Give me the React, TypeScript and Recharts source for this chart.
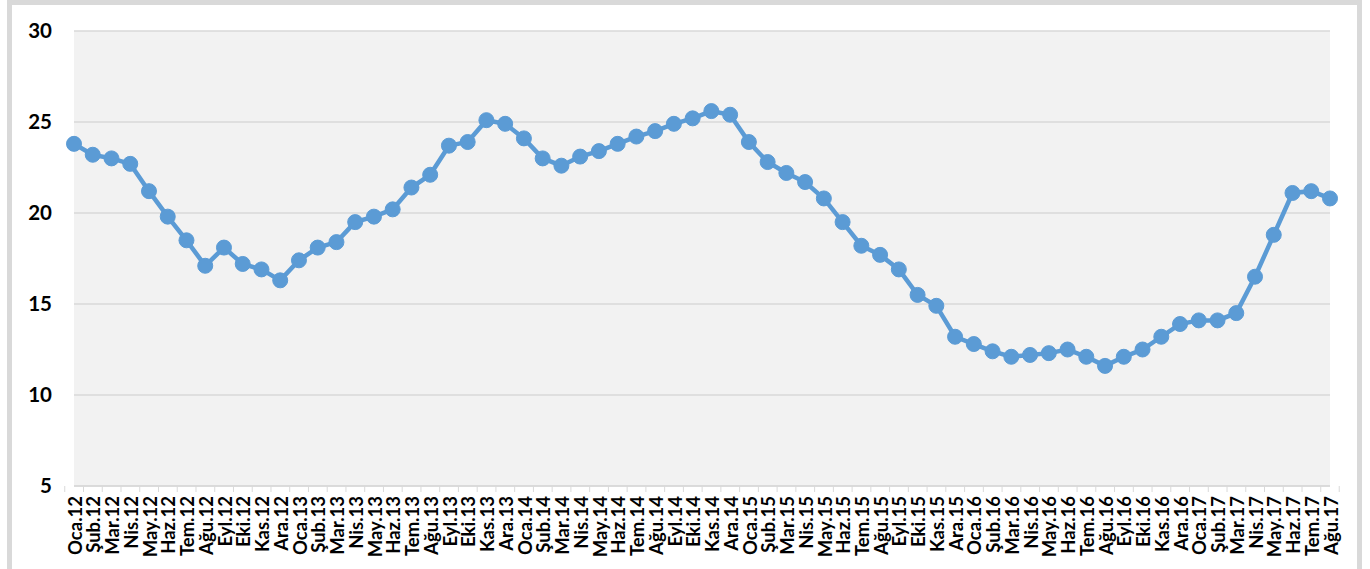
import { CartesianGrid, Line, LineChart, XAxis, YAxis } from "recharts";

const months = ["Oca", "Şub", "Mar", "Nis", "May", "Haz", "Tem", "Ağu", "Eyl", "Eki", "Kas", "Ara"];
const years = ["12", "13", "14", "15", "16", "17"];

const labels: string[] = years
  .flatMap((yr) => months.map((m) => `${m}.${yr}`))
  .slice(0, 68);

const values = [
  23.8, 23.2, 23.0, 22.7, 21.2, 19.8, 18.5, 17.1, 18.1, 17.2, 16.9, 16.3,
  17.4, 18.1, 18.4, 19.5, 19.8, 20.2, 21.4, 22.1, 23.7, 23.9, 25.1, 24.9,
  24.1, 23.0, 22.6, 23.1, 23.4, 23.8, 24.2, 24.5, 24.9, 25.2, 25.6, 25.4,
  23.9, 22.8, 22.2, 21.7, 20.8, 19.5, 18.2, 17.7, 16.9, 15.5, 14.9, 13.2,
  12.8, 12.4, 12.1, 12.2, 12.3, 12.5, 12.1, 11.6, 12.1, 12.5, 13.2, 13.9,
  14.1, 14.1, 14.5, 16.5, 18.8, 21.1, 21.2, 20.8,
];

const yTicks = [5, 10, 15, 20, 25, 30];

const data = labels.map((label, i) => ({ label, value: values[i] }));

const FONT = "Lato, 'Open Sans', sans-serif";
const GRID = "#d9d9d9";
const BLUE = "#5b9bd5";

const BAND = (1330 - 74) / labels.length;

function MonthTick(props: any) {
  const { x, y, payload, index } = props;
  const last = index === labels.length - 1;
  return (
    <g>
      <line x1={x - BAND / 2} x2={x - BAND / 2} y1={y} y2={y + 6} stroke={GRID} strokeWidth={1} />
      {last && (
        <line x1={x + BAND / 2} x2={x + BAND / 2} y1={y} y2={y + 6} stroke={GRID} strokeWidth={1} />
      )}
      <text
        x={x + 1}
        y={y + 10}
        transform={`rotate(-90, ${x + 1}, ${y + 10})`}
        textAnchor="end"
        dy="0.36em"
        fontFamily={FONT}
        fontWeight={700}
        fontSize={18.5}
        fill="#000"
      >
        {payload.value}
      </text>
    </g>
  );
}

export default function App() {
  return (
    <div style={{ position: "absolute", left: 0, top: 0, width: 1370, height: 569, background: "#fff" }}>
      <div
        style={{
          position: "absolute",
          left: 7,
          top: 0,
          width: 1355,
          height: 569,
          boxSizing: "border-box",
          border: `5px solid ${GRID}`,
          borderBottom: "none",
          background: "#fff",
        }}
      />
      <div style={{ position: "absolute", left: 0, top: 0 }}>
        <LineChart
          width={1370}
          height={569}
          data={data}
          margin={{ top: 31, right: 40, left: 12, bottom: 0 }}
        >
          <CartesianGrid vertical={false} stroke={GRID} strokeWidth={1.5} fill="#f2f2f2" />
          <XAxis
            dataKey="label"
            interval={0}
            height={83}
            tickLine={false}
            tickSize={0}
            tickMargin={0}
            axisLine={{ stroke: GRID, strokeWidth: 1.5 }}
            tick={<MonthTick />}
          />
          <YAxis
            domain={[5, 30]}
            ticks={yTicks}
            width={62}
            axisLine={false}
            tickLine={false}
            tickSize={0}
            tickMargin={22}
            tick={{ fontFamily: FONT, fontWeight: 700, fontSize: 20.5, fill: "#000" }}
          />
          <Line
            type="linear"
            dataKey="value"
            stroke={BLUE}
            strokeWidth={4.5}
            dot={{ r: 7.5, fill: BLUE, stroke: BLUE, strokeWidth: 1 }}
            activeDot={false}
            isAnimationActive={false}
          />
        </LineChart>
      </div>
    </div>
  );
}
